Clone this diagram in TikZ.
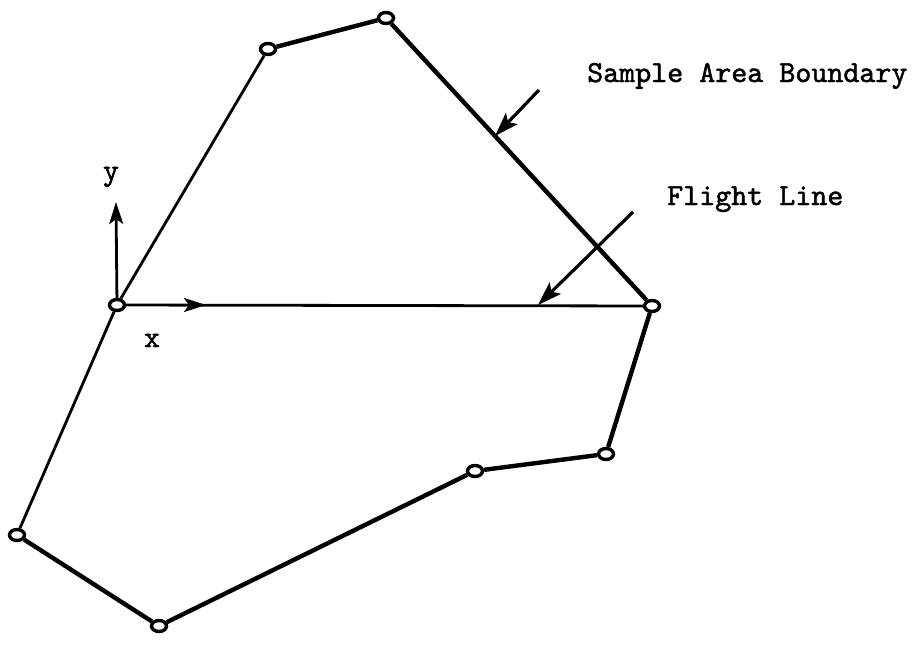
\documentclass[tikz,border=0pt]{standalone}
\usepackage{fontspec}
\newfontfamily\tw[FakeBold=1.6]{lmmono10-regular.otf}
\usetikzlibrary{arrows.meta,shapes.geometric}
\begin{document}
\begin{tikzpicture}[x=1pt,y=-1pt,
  vtx/.style={ellipse,draw,line width=3.4pt,fill=white,minimum width=15pt,minimum height=11pt,inner sep=0pt},
  thickedge/.style={line width=4.4pt},
  thinedge/.style={line width=2.8pt},
  pointer/.style={line width=3.2pt,-{Stealth[length=24pt,width=16pt,inset=5pt]}},
  axis/.style={line width=2.8pt,-{Stealth[length=22pt,width=14pt,inset=5pt]}},
  lbl/.style={font=\tw\fontsize{30.5}{30.5}\selectfont,inner sep=0pt}]
\useasboundingbox (0,0) rectangle (919,645);
\node[vtx] (A) at (117,305) {};
\node[vtx] (B) at (268,49) {};
\node[vtx] (C) at (386,18) {};
\node[vtx] (D) at (652,306) {};
\node[vtx] (E) at (606,454) {};
\node[vtx] (F) at (475,471) {};
\node[vtx] (G) at (159,626) {};
\node[vtx] (H) at (17,535) {};
\draw[thinedge] (A) -- (B);
\draw[thickedge] (B) -- (C);
\draw[thickedge] (C) -- (D);
\draw[thickedge] (D) -- (E);
\draw[thickedge] (E) -- (F);
\draw[thickedge] (F) -- (G);
\draw[thickedge] (G) -- (H);
\draw[thinedge] (H) -- (A);
\draw[thinedge] (A) -- (D);
% axes
\coordinate (ytip) at (116,202);
\coordinate (xtip) at (206,305);
\draw[axis] (A) -- (ytip);
\draw[axis] (A) -- (xtip);
\node[lbl,anchor=base] (ylbl) at (111,180) {y};
\node[lbl,anchor=base] (xlbl) at (152,347) {x};
% annotations
\node[lbl,anchor=base west] (sab) at (587,82) {Sample Area Boundary};
\node[lbl,anchor=base west] (fl) at (667,205) {Flight Line};
\coordinate (sabs) at (539,90);
\coordinate (sabe) at (495,136);
\coordinate (fls) at (633,212);
\coordinate (fle) at (538,305);
\draw[pointer] (sabs) -- (sabe);
\draw[pointer] (fls) -- (fle);
\end{tikzpicture}
\end{document}
